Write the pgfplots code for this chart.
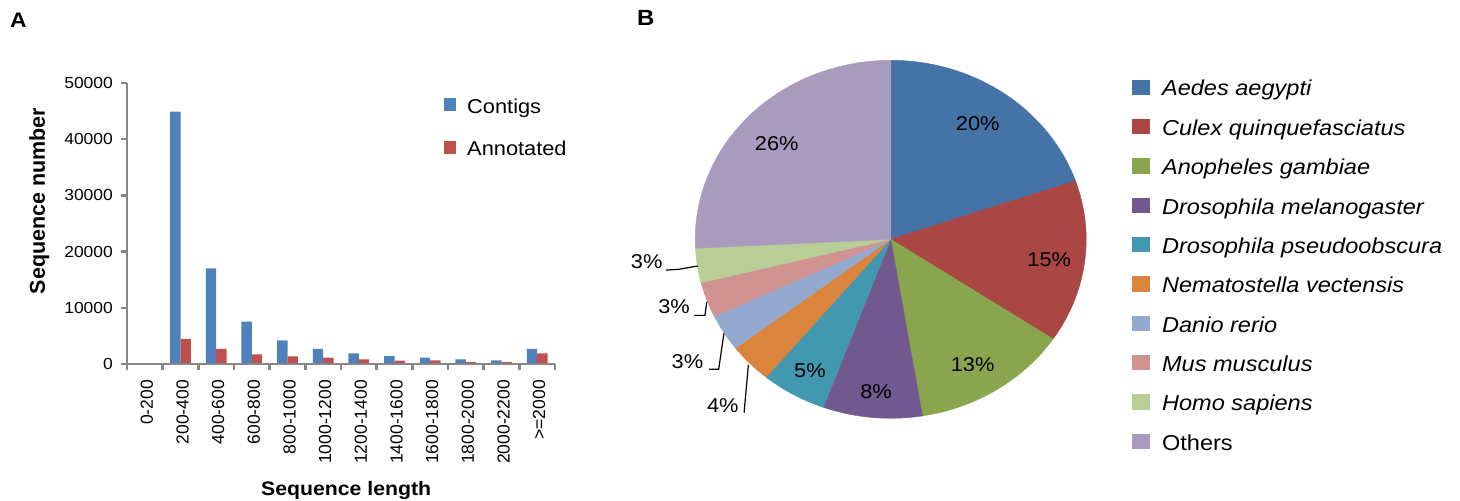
\documentclass[border=0pt]{standalone}
\usepackage{fontspec}
\setmainfont{Liberation Sans}[FakeStretch=1.09]
\newfontfamily\rotfont{Liberation Sans}
\usepackage{pgfplots}
\pgfplotsset{compat=1.18}
\usepackage{pgfplotstable}
\usepgfplotslibrary{polar}

\definecolor{axisgray}{RGB}{134,134,134}
\definecolor{barblue}{HTML}{4F81BD}
\definecolor{barred}{HTML}{C0504D}
\definecolor{pA}{HTML}{4572A7}
\definecolor{pB}{HTML}{AA4643}
\definecolor{pC}{HTML}{89A54E}
\definecolor{pD}{HTML}{71588F}
\definecolor{pE}{HTML}{4198AF}
\definecolor{pF}{HTML}{DB843D}
\definecolor{pG}{HTML}{93A9CF}
\definecolor{pH}{HTML}{D19392}
\definecolor{pI}{HTML}{B9CD96}
\definecolor{pJ}{HTML}{A99BBD}

\newcommand\fs[1]{\fontsize{#1bp}{#1bp}\selectfont}
\newcommand\ls{\rule[-5bp]{0pt}{21bp}}

\pgfplotstableread{
x contigs annot
0 150 120
1 44900 4450
2 17000 2670
3 7530 1720
4 4220 1370
5 2670 1120
6 1900 830
7 1420 590
8 1120 650
9 830 350
10 650 350
11 2670 1900
}\bardata

\begin{document}
\begin{tikzpicture}
\begin{axis}[
  scale only axis, width=428bp, height=281bp,
  at={(127bp,137bp)}, anchor=south west,
  xmin=-0.5, xmax=11.5, ymin=0, ymax=50000,
  axis x line*=bottom, axis y line*=left,
  axis line style={-, draw=axisgray, line width=2.8bp},
  axis on top=true,
  ybar=0pt, bar width=0.29,
  scaled y ticks=false,
  xtick={0,...,11},
  xticklabels={0-200,200-400,400-600,600-800,800-1000,1000-1200,1200-1400,1400-1600,1600-1800,1800-2000,2000-2200,>=2000},
  ytick={0,10000,20000,30000,40000,50000},
  yticklabels={0,10000,20000,30000,40000,50000},
  minor xtick={-0.5,0.5,...,11.5},
  minor ytick={0,10000,20000,30000,40000,50000},
  major tick length=0pt, minor tick length=6bp, tick align=outside,
  tick style={draw=axisgray, line width=2.5bp},
  xticklabel style={font=\rotfont\fs{17.5}, inner sep=0pt, yshift=-16bp, xshift=2bp, rotate=90, anchor=east},
  yticklabel style={font=\fs{16}, inner sep=0pt, xshift=-14bp},
  xlabel={Sequence length}, ylabel={Sequence number},
  every axis x label/.style={at={(rel axis cs:0.512,0)}, anchor=base, yshift=-131bp, font=\bfseries\fs{19.5}},
  every axis y label/.style={at={(rel axis cs:-0.181,0.58)}, rotate=90, anchor=south, inner sep=0pt, font=\rotfont\bfseries\fs{21.5}},
  legend cell align=left,
  legend style={at={(axis description cs:0.7407,0.9495)}, anchor=north west, draw=none, fill=none,
    inner sep=0pt, row sep=24.7bp, column sep=11bp, font=\fs{20}, nodes={inner sep=0pt}},
  legend image code/.code={\fill[#1] (0bp,-5.3bp) rectangle (12bp,7.7bp);},
]
\addplot[fill=barblue, draw=none] table[x=x, y=contigs] {\bardata};
\addlegendentry{\ls Contigs}
\addplot[fill=barred, draw=none] table[x=x, y=annot] {\bardata};
\addlegendentry{\ls Annotated}
\end{axis}

\begin{axis}[
  at={(890.7bp,261.7bp)}, anchor=center,
  x=195.5bp, y=179bp, xmin=-1.3, xmax=1.3, ymin=-1.3, ymax=1.3,
  hide axis, clip=false,
  legend cell align=left,
  legend entries={\ls\textit{Aedes aegypti}, \ls\textit{Culex quinquefasciatus}, \ls\textit{Anopheles gambiae}, \ls\textit{Drosophila melanogaster}, \ls\textit{Drosophila pseudoobscura}, \ls\textit{Nematostella vectensis}, \ls\textit{Danio rerio}, \ls\textit{Mus musculus}, \ls\textit{Homo sapiens}, \ls Others},
  legend style={at={(axis description cs:0.9747,0.8433)}, anchor=north west, draw=none, fill=none,
    inner sep=0pt, row sep=21.6bp, column sep=13bp, font=\fs{21.6}, nodes={inner sep=0pt}},
  legend image code/.code={\fill[#1] (0bp,-5.5bp) rectangle (16.5bp,8.8bp);},
]
\gdef\cum{0}
\foreach \p/\c in {19.7/pA,14.7/pB,13.0/pC,8.2/pD,5.4/pE,3.6/pF,3.3/pG,3.2/pH,3.1/pI,25.8/pJ}{
  \pgfmathsetmacro\st{90-3.6*\cum}
  \pgfmathsetmacro\cumnew{\cum+\p}
  \pgfmathsetmacro\en{90-3.6*\cumnew}
  \edef\tmp{\noexpand\addplot[fill=\c, draw=\c, line width=0.4bp, data cs=polar, domain=\en:\st, samples=80] ({x},{1}) -- (axis cs:0,0) -- cycle;}
  \tmp
  \xdef\cum{\cumnew}
}
\node[font=\fs{20}] at (axis cs:0.445,0.644) {20\%};
\node[font=\fs{20}] at (axis cs:0.811,-0.116) {15\%};
\node[font=\fs{20}] at (axis cs:0.419,-0.698) {13\%};
\node[font=\fs{20}] at (axis cs:-0.075,-0.851) {8\%};
\node[font=\fs{20}] at (axis cs:-0.413,-0.736) {5\%};
\node[font=\fs{20}] at (axis cs:-0.583,0.532) {26\%};
\node[font=\fs{20}] at (axis cs:-1.248,-0.125) {3\%};
\node[font=\fs{20}] at (axis cs:-1.108,-0.377) {3\%};
\node[font=\fs{20}] at (axis cs:-1.040,-0.684) {3\%};
\node[font=\fs{20}] at (axis cs:-0.859,-0.931) {4\%};
\draw[black, line width=1.2bp] (axis cs:-1.149,-0.172) -- (axis cs:-1.086,-0.168) -- (axis cs:-0.987,-0.149);
\draw[black, line width=1.2bp] (axis cs:-1.005,-0.425) -- (axis cs:-0.950,-0.425) -- (axis cs:-0.941,-0.349);
\draw[black, line width=1.2bp] (axis cs:-0.929,-0.726) -- (axis cs:-0.880,-0.726) -- (axis cs:-0.853,-0.525);
\draw[black, line width=1.2bp] (axis cs:-0.750,-0.969) -- (axis cs:-0.728,-0.702);
\end{axis}

\node[anchor=north west, inner sep=0pt, font=\bfseries\fs{21}] at (10bp,488bp) {A};
\node[anchor=north west, inner sep=0pt, font=\bfseries\fs{22}] at (637bp,491bp) {B};
\pgfresetboundingbox
\path[use as bounding box] (0,0) rectangle (1460bp,501bp);
\end{tikzpicture}
\end{document}
